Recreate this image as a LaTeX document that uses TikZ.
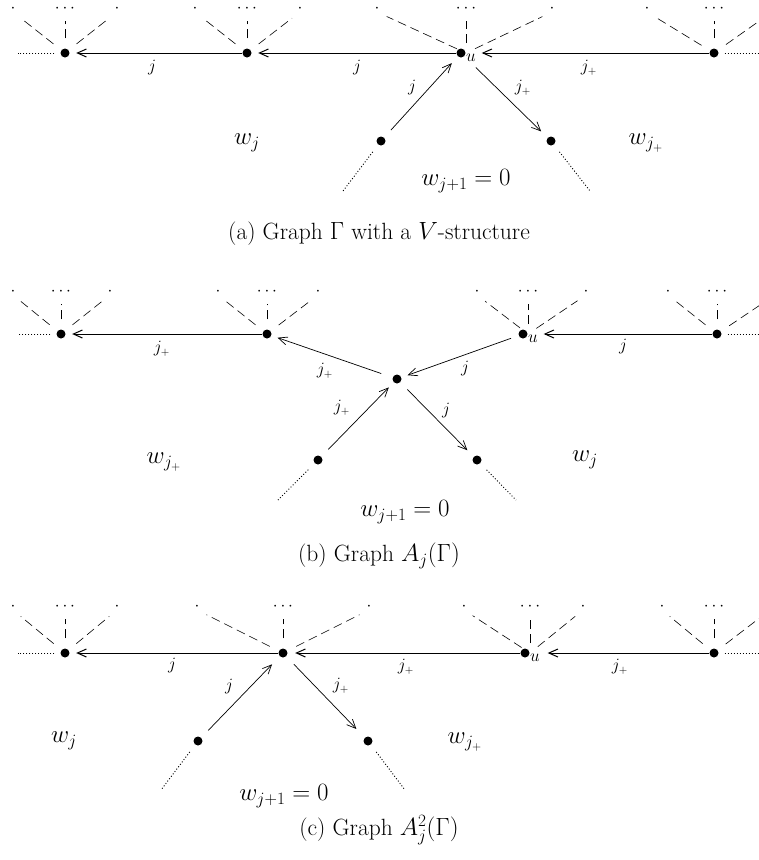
\documentclass[tikz,border=0pt]{standalone}
\usetikzlibrary{arrows.meta}
\tikzset{
  vtx/.style={circle, fill=black, inner sep=0pt, minimum size=9pt},
  hlink/.style={-{Straight Barb[length=9pt,width=8pt]}, line width=1pt, shorten >=6.5pt},
  ulink/.style={-{Straight Barb[length=9pt,width=8pt]}, line width=1pt, shorten >=16pt},
  dlink/.style={-{Straight Barb[length=9pt,width=8pt]}, line width=0.7pt, shorten >=9pt, shorten <=10pt},
  fanline/.style={line width=0.6pt, dash pattern=on 9pt off 5pt, shorten <=10pt, shorten >=9pt},
  tail/.style={line width=0.9pt, dash pattern=on 1pt off 2pt},
  dotmark/.style={inner sep=0pt, text height=0pt, text depth=0pt, font=\fontsize{16}{18}\selectfont},
  elab/.style={inner sep=0pt, font=\fontsize{16}{19}\selectfont},
  ulab/.style={inner sep=0pt, font=\fontsize{16}{18}\selectfont},
  wlab/.style={inner sep=0pt, font=\fontsize{25}{29}\selectfont},
  caption/.style={inner sep=0pt, font=\fontsize{23.5}{28}\selectfont},
}
\newcommand{\myfan}[6]{%
  \node[dotmark] (#1l) at (#3,#6+6) {$\cdot$};
  \node[dotmark] (#1t) at (#4,#6+6) {$\cdots$};
  \node[dotmark] (#1r) at (#5,#6+6) {$\cdot$};
  \draw[fanline] (#2) -- (#1l);
  \draw[fanline] (#2) -- (#4,#6+6);
  \draw[fanline] (#2) -- (#1r);
}
\begin{document}
\begin{tikzpicture}[x=1pt,y=-1pt]
\useasboundingbox (0,0) rectangle (759,860);

% ================= (a) =================
\node[vtx] (a1) at (65,53) {};
\node[vtx] (a2) at (247,53) {};
\node[vtx] (au) at (461,53) {};
\node[vtx] (a4) at (714,53) {};
\node[vtx] (abl) at (381,141) {};
\node[vtx] (abr) at (551,141) {};
\coordinate (auo) at (466,53);
\node[ulab] (aul) at (471,58) {$u$};

\myfan{fa1}{a1}{13}{65}{117}{6}
\myfan{fa2}{a2}{195}{247}{300}{6}
\myfan{fau}{auo}{377}{466}{552}{6}
\myfan{fa4}{a4}{647}{714}{772}{6}

\draw[hlink] (a2) -- (a1);
\draw[hlink] (au) -- (a2);
\draw[ulink] (a4) -- (au);
\draw[dlink] (abl) -- (au);
\draw[dlink, shorten <=16pt] (au) -- (abr);

\coordinate (a1e) at (18,53);
\coordinate (a4e) at (759,53);
\coordinate (able) at (343,191);
\coordinate (abre) at (590,191);
\draw[tail, shorten <=6pt] (a1) -- (a1e);
\draw[tail, shorten <=6pt] (a4) -- (a4e);
\draw[tail, shorten <=9pt] (abl) -- (able);
\draw[tail, shorten <=9pt] (abr) -- (abre);

\node[elab] (ae1) at (152,68) {$j$};
\node[elab] (ae2) at (357,68) {$j$};
\node[elab] (ae3) at (589,68) {$j_+$};
\node[elab] (ae4) at (412,88) {$j$};
\node[elab] (ae5) at (523,88) {$j_+$};

\node[wlab] (aw1) at (247,143) {$w_j$};
\node[wlab] (aw2) at (646,143) {$w_{j_+}$};
\node[wlab] (aw3) at (466,181) {$w_{j+1}=0$};
\node[caption] (acap) at (379,234) {(a) Graph $\Gamma$ with a $V$-structure};

% ================= (b) =================
\node[vtx] (b1) at (61,334) {};
\node[vtx] (b2) at (267,334) {};
\node[vtx] (bu) at (523,334) {};
\node[vtx] (b4) at (717,334) {};
\node[vtx] (bc) at (397,379) {};
\node[vtx] (bbl) at (318,460) {};
\node[vtx] (bbr) at (477,460) {};
\coordinate (buo) at (528,334);
\node[ulab] (bul) at (533,339) {$u$};

\myfan{fb1}{b1}{13}{61}{110}{289}
\myfan{fb2}{b2}{218}{267}{318}{289}
\myfan{fbu}{buo}{477}{528}{586}{289}
\myfan{fb4}{b4}{668}{717}{775}{289}

\draw[hlink] (b2) -- (b1);
\draw[dlink, shorten <=12pt, shorten >=6.5pt] (bc) -- (b2);
\draw[dlink, shorten <=8pt, shorten >=6.5pt] (bu) -- (bc);
\draw[ulink] (b4) -- (bu);
\draw[dlink, shorten >=7pt] (bbl) -- (bc);
\draw[dlink] (bc) -- (bbr);

\coordinate (b1e) at (18,334);
\coordinate (b4e) at (759,334);
\coordinate (bble) at (278,500);
\coordinate (bbre) at (516,500);
\draw[tail, shorten <=6pt] (b1) -- (b1e);
\draw[tail, shorten <=6pt] (b4) -- (b4e);
\draw[tail, shorten <=9pt] (bbl) -- (bble);
\draw[tail, shorten <=9pt] (bbr) -- (bbre);

\node[elab] (be1) at (162,349) {$j_+$};
\node[elab] (be2) at (325,371) {$j_+$};
\node[elab] (be3) at (342,408) {$j_+$};
\node[elab] (be4) at (465,369) {$j$};
\node[elab] (be5) at (446,411) {$j$};
\node[elab] (be6) at (623,347) {$j$};

\node[wlab] (bw1) at (164,462) {$w_{j_+}$};
\node[wlab] (bw2) at (585,460) {$w_j$};
\node[wlab] (bw3) at (405,512) {$w_{j+1}=0$};
\node[caption] (bcap) at (379,556) {(b) Graph $A_j(\Gamma)$};

% ================= (c) =================
\node[vtx] (c1) at (65,653) {};
\node[vtx] (cc) at (283,653) {};
\node[vtx] (cu) at (525,653) {};
\node[vtx] (c4) at (714,653) {};
\node[vtx] (cbl) at (198,741) {};
\node[vtx] (cbr) at (368,741) {};
\coordinate (cuo) at (530,653);
\node[ulab] (cul) at (535,658) {$u$};

\myfan{fc1}{c1}{13}{65}{117}{604}
\myfan{fcc}{cc}{197}{283}{369}{604}
\myfan{fcu}{cuo}{464}{530}{583}{604}
\myfan{fc4}{c4}{662}{714}{770}{604}

\draw[hlink] (cc) -- (c1);
\draw[hlink, shorten >=7.5pt] (cu) -- (cc);
\draw[ulink, shorten >=18pt] (c4) -- (cu);
\draw[dlink, shorten >=11pt] (cbl) -- (cc);
\draw[dlink, shorten >=12pt, shorten <=11pt] (cc) -- (cbr);

\coordinate (c1e) at (18,653);
\coordinate (c4e) at (759,653);
\coordinate (cble) at (161,790);
\coordinate (cbre) at (405,790);
\draw[tail, shorten <=6pt] (c1) -- (c1e);
\draw[tail, shorten <=6pt] (c4) -- (c4e);
\draw[tail, shorten <=9pt] (cbl) -- (cble);
\draw[tail, shorten <=9pt] (cbr) -- (cbre);

\node[elab] (ce1) at (172,666) {$j$};
\node[elab] (ce2) at (229,687) {$j$};
\node[elab] (ce3) at (341,686) {$j_+$};
\node[elab] (ce4) at (406,667) {$j_+$};
\node[elab] (ce5) at (620,667) {$j_+$};

\node[wlab] (cw1) at (64,741) {$w_j$};
\node[wlab] (cw2) at (465,742) {$w_{j_+}$};
\node[wlab] (cw3) at (284,796) {$w_{j+1}=0$};
\node[caption] (ccap) at (379,830) {(c) Graph $A_j^2(\Gamma)$};
\end{tikzpicture}
\end{document}
